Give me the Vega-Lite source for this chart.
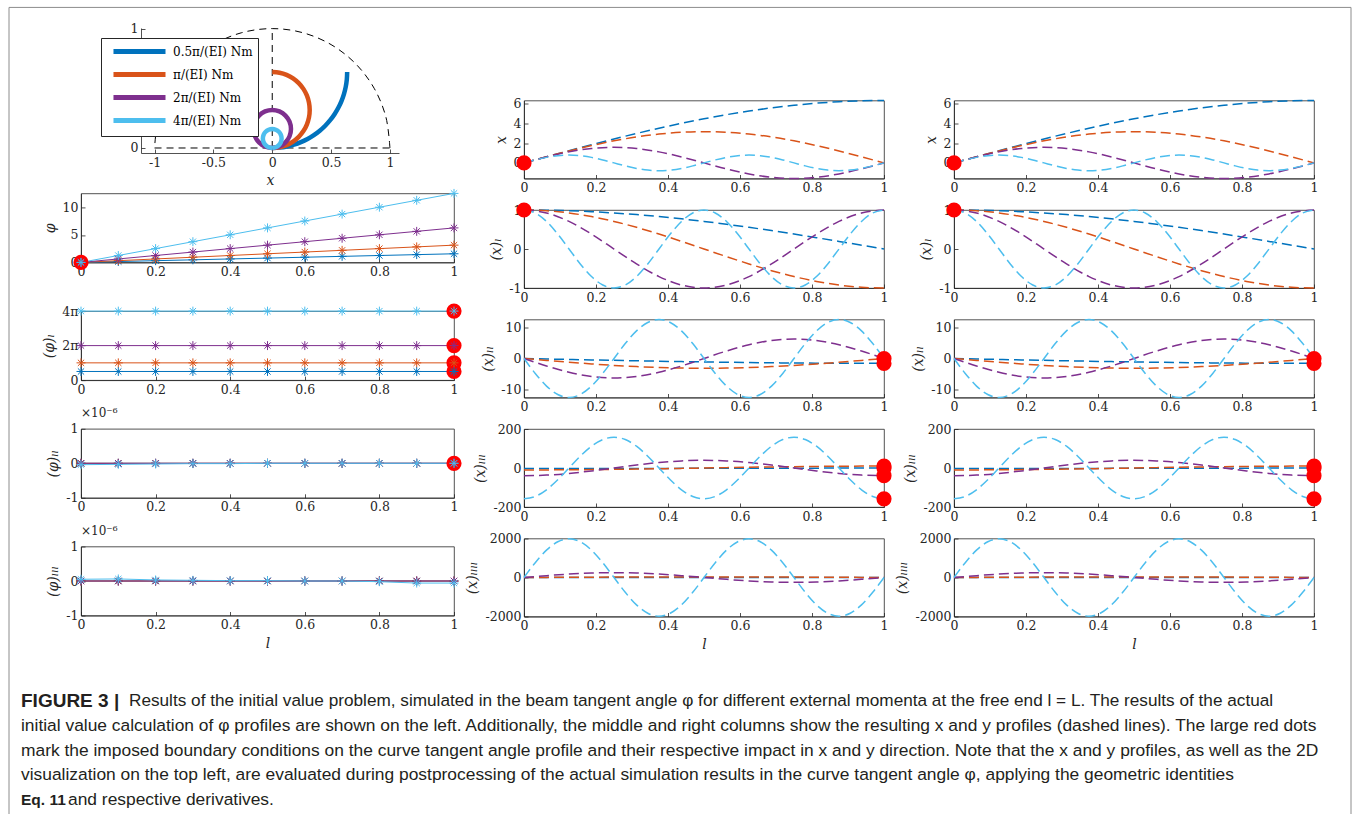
{
"$schema":"https://vega.github.io/schema/vega-lite/v6.json",
"background":"white",
"padding":{"left":8,"top":6,"right":0,"bottom":0},
"autosize":{"type":"pad"},
"config":{
 "view":{"stroke":"#262626","strokeWidth":0.8},
 "axis":{"domainColor":"#262626","domainWidth":0.8,"tickColor":"#262626","tickWidth":0.8,"tickSize":-4,"labelPadding":7,"labelFont":"DejaVu Serif","labelFontSize":12.5,"labelColor":"#262626","labelFlush":false,"labelOverlap":false,"labelBound":false,"titleFont":"DejaVu Serif","titleFontSize":14,"titleFontStyle":"italic","titleFontWeight":"normal","titleColor":"#262626","titlePadding":5,"grid":false},
 "title":{"font":"DejaVu Serif","fontWeight":"normal","fontSize":12,"color":"#262626"}
},
"datasets":{
"xs":[
{"s":"b","l":0,"d0":0,"d1":1,"d2":0,"d3":-2.467,"d4":0},
{"s":"b","l":0.0625,"d0":0.616,"d1":0.9952,"d2":-0.154,"d3":-2.456,"d4":0.38},
{"s":"b","l":0.125,"d0":1.226,"d1":0.9808,"d2":-0.306,"d3":-2.42,"d4":0.756},
{"s":"b","l":0.1875,"d0":1.824,"d1":0.9569,"d2":-0.456,"d3":-2.361,"d4":1.125},
{"s":"b","l":0.25,"d0":2.405,"d1":0.9239,"d2":-0.601,"d3":-2.28,"d4":1.483},
{"s":"b","l":0.3125,"d0":2.962,"d1":0.8819,"d2":-0.74,"d3":-2.176,"d4":1.827},
{"s":"b","l":0.375,"d0":3.491,"d1":0.8315,"d2":-0.873,"d3":-2.052,"d4":2.153},
{"s":"b","l":0.4375,"d0":3.986,"d1":0.773,"d2":-0.996,"d3":-1.907,"d4":2.459},
{"s":"b","l":0.5,"d0":4.443,"d1":0.7071,"d2":-1.111,"d3":-1.745,"d4":2.741},
{"s":"b","l":0.5625,"d0":4.857,"d1":0.6344,"d2":-1.214,"d3":-1.565,"d4":2.996},
{"s":"b","l":0.625,"d0":5.224,"d1":0.5556,"d2":-1.306,"d3":-1.371,"d4":3.223},
{"s":"b","l":0.6875,"d0":5.541,"d1":0.4714,"d2":-1.385,"d3":-1.163,"d4":3.418},
{"s":"b","l":0.75,"d0":5.805,"d1":0.3827,"d2":-1.451,"d3":-0.944,"d4":3.581},
{"s":"b","l":0.8125,"d0":6.013,"d1":0.2903,"d2":-1.503,"d3":-0.716,"d4":3.709},
{"s":"b","l":0.875,"d0":6.163,"d1":0.1951,"d2":-1.541,"d3":-0.481,"d4":3.801},
{"s":"b","l":0.9375,"d0":6.253,"d1":0.098,"d2":-1.563,"d3":-0.242,"d4":3.857},
{"s":"b","l":1,"d0":6.283,"d1":0,"d2":-1.571,"d3":0,"d4":3.876},
{"s":"o","l":0,"d0":0,"d1":1,"d2":0,"d3":-9.87,"d4":0},
{"s":"o","l":0.0625,"d0":0.613,"d1":0.9808,"d2":-0.613,"d3":-9.68,"d4":6.049},
{"s":"o","l":0.125,"d0":1.202,"d1":0.9239,"d2":-1.202,"d3":-9.118,"d4":11.865},
{"s":"o","l":0.1875,"d0":1.745,"d1":0.8315,"d2":-1.745,"d3":-8.206,"d4":17.226},
{"s":"o","l":0.25,"d0":2.221,"d1":0.7071,"d2":-2.221,"d3":-6.979,"d4":21.925},
{"s":"o","l":0.3125,"d0":2.612,"d1":0.5556,"d2":-2.612,"d3":-5.483,"d4":25.781},
{"s":"o","l":0.375,"d0":2.903,"d1":0.3827,"d2":-2.903,"d3":-3.777,"d4":28.646},
{"s":"o","l":0.4375,"d0":3.081,"d1":0.1951,"d2":-3.081,"d3":-1.925,"d4":30.41},
{"s":"o","l":0.5,"d0":3.142,"d1":0,"d2":-3.142,"d3":0,"d4":31.006},
{"s":"o","l":0.5625,"d0":3.081,"d1":-0.1951,"d2":-3.081,"d3":1.925,"d4":30.41},
{"s":"o","l":0.625,"d0":2.903,"d1":-0.3827,"d2":-2.903,"d3":3.777,"d4":28.646},
{"s":"o","l":0.6875,"d0":2.612,"d1":-0.5556,"d2":-2.612,"d3":5.483,"d4":25.781},
{"s":"o","l":0.75,"d0":2.221,"d1":-0.7071,"d2":-2.221,"d3":6.979,"d4":21.925},
{"s":"o","l":0.8125,"d0":1.745,"d1":-0.8315,"d2":-1.745,"d3":8.206,"d4":17.226},
{"s":"o","l":0.875,"d0":1.202,"d1":-0.9239,"d2":-1.202,"d3":9.118,"d4":11.865},
{"s":"o","l":0.9375,"d0":0.613,"d1":-0.9808,"d2":-0.613,"d3":9.68,"d4":6.049},
{"s":"o","l":1,"d0":0,"d1":-1,"d2":0,"d3":9.87,"d4":0},
{"s":"p","l":0,"d0":0,"d1":1,"d2":0,"d3":-39.48,"d4":0},
{"s":"p","l":0.0625,"d0":0.601,"d1":0.9239,"d2":-2.405,"d3":-36.47,"d4":94.92},
{"s":"p","l":0.125,"d0":1.111,"d1":0.7071,"d2":-4.443,"d3":-27.92,"d4":175.4},
{"s":"p","l":0.1875,"d0":1.451,"d1":0.3827,"d2":-5.805,"d3":-15.11,"d4":229.17},
{"s":"p","l":0.25,"d0":1.571,"d1":0,"d2":-6.283,"d3":0,"d4":248.05},
{"s":"p","l":0.3125,"d0":1.451,"d1":-0.3827,"d2":-5.805,"d3":15.11,"d4":229.17},
{"s":"p","l":0.375,"d0":1.111,"d1":-0.7071,"d2":-4.443,"d3":27.92,"d4":175.4},
{"s":"p","l":0.4375,"d0":0.601,"d1":-0.9239,"d2":-2.405,"d3":36.47,"d4":94.92},
{"s":"p","l":0.5,"d0":0,"d1":-1,"d2":0,"d3":39.48,"d4":0},
{"s":"p","l":0.5625,"d0":-0.601,"d1":-0.9239,"d2":2.405,"d3":36.47,"d4":-94.92},
{"s":"p","l":0.625,"d0":-1.111,"d1":-0.7071,"d2":4.443,"d3":27.92,"d4":-175.4},
{"s":"p","l":0.6875,"d0":-1.451,"d1":-0.3827,"d2":5.805,"d3":15.11,"d4":-229.17},
{"s":"p","l":0.75,"d0":-1.571,"d1":0,"d2":6.283,"d3":0,"d4":-248.05},
{"s":"p","l":0.8125,"d0":-1.451,"d1":0.3827,"d2":5.805,"d3":-15.11,"d4":-229.17},
{"s":"p","l":0.875,"d0":-1.111,"d1":0.7071,"d2":4.443,"d3":-27.92,"d4":-175.4},
{"s":"p","l":0.9375,"d0":-0.601,"d1":0.9239,"d2":2.405,"d3":-36.47,"d4":-94.92},
{"s":"p","l":1,"d0":0,"d1":1,"d2":0,"d3":-39.48,"d4":0},
{"s":"c","l":0,"d0":0,"d1":1,"d2":0,"d3":-157.91,"d4":0},
{"s":"c","l":0.03125,"d0":0.3006,"d1":0.9239,"d2":-4.809,"d3":-145.89,"d4":759.4},
{"s":"c","l":0.0625,"d0":0.5554,"d1":0.7071,"d2":-8.886,"d3":-111.66,"d4":1403.2},
{"s":"c","l":0.09375,"d0":0.7256,"d1":0.3827,"d2":-11.61,"d3":-60.43,"d4":1833.3},
{"s":"c","l":0.125,"d0":0.7854,"d1":0,"d2":-12.566,"d3":0,"d4":1984.4},
{"s":"c","l":0.15625,"d0":0.7256,"d1":-0.3827,"d2":-11.61,"d3":60.43,"d4":1833.3},
{"s":"c","l":0.1875,"d0":0.5554,"d1":-0.7071,"d2":-8.886,"d3":111.66,"d4":1403.2},
{"s":"c","l":0.21875,"d0":0.3006,"d1":-0.9239,"d2":-4.809,"d3":145.89,"d4":759.4},
{"s":"c","l":0.25,"d0":0,"d1":-1,"d2":0,"d3":157.91,"d4":0},
{"s":"c","l":0.28125,"d0":-0.3006,"d1":-0.9239,"d2":4.809,"d3":145.89,"d4":-759.4},
{"s":"c","l":0.3125,"d0":-0.5554,"d1":-0.7071,"d2":8.886,"d3":111.66,"d4":-1403.2},
{"s":"c","l":0.34375,"d0":-0.7256,"d1":-0.3827,"d2":11.61,"d3":60.43,"d4":-1833.3},
{"s":"c","l":0.375,"d0":-0.7854,"d1":0,"d2":12.566,"d3":0,"d4":-1984.4},
{"s":"c","l":0.40625,"d0":-0.7256,"d1":0.3827,"d2":11.61,"d3":-60.43,"d4":-1833.3},
{"s":"c","l":0.4375,"d0":-0.5554,"d1":0.7071,"d2":8.886,"d3":-111.66,"d4":-1403.2},
{"s":"c","l":0.46875,"d0":-0.3006,"d1":0.9239,"d2":4.809,"d3":-145.89,"d4":-759.4},
{"s":"c","l":0.5,"d0":0,"d1":1,"d2":0,"d3":-157.91,"d4":0},
{"s":"c","l":0.53125,"d0":0.3006,"d1":0.9239,"d2":-4.809,"d3":-145.89,"d4":759.4},
{"s":"c","l":0.5625,"d0":0.5554,"d1":0.7071,"d2":-8.886,"d3":-111.66,"d4":1403.2},
{"s":"c","l":0.59375,"d0":0.7256,"d1":0.3827,"d2":-11.61,"d3":-60.43,"d4":1833.3},
{"s":"c","l":0.625,"d0":0.7854,"d1":0,"d2":-12.566,"d3":0,"d4":1984.4},
{"s":"c","l":0.65625,"d0":0.7256,"d1":-0.3827,"d2":-11.61,"d3":60.43,"d4":1833.3},
{"s":"c","l":0.6875,"d0":0.5554,"d1":-0.7071,"d2":-8.886,"d3":111.66,"d4":1403.2},
{"s":"c","l":0.71875,"d0":0.3006,"d1":-0.9239,"d2":-4.809,"d3":145.89,"d4":759.4},
{"s":"c","l":0.75,"d0":0,"d1":-1,"d2":0,"d3":157.91,"d4":0},
{"s":"c","l":0.78125,"d0":-0.3006,"d1":-0.9239,"d2":4.809,"d3":145.89,"d4":-759.4},
{"s":"c","l":0.8125,"d0":-0.5554,"d1":-0.7071,"d2":8.886,"d3":111.66,"d4":-1403.2},
{"s":"c","l":0.84375,"d0":-0.7256,"d1":-0.3827,"d2":11.61,"d3":60.43,"d4":-1833.3},
{"s":"c","l":0.875,"d0":-0.7854,"d1":0,"d2":12.566,"d3":0,"d4":-1984.4},
{"s":"c","l":0.90625,"d0":-0.7256,"d1":0.3827,"d2":11.61,"d3":-60.43,"d4":-1833.3},
{"s":"c","l":0.9375,"d0":-0.5554,"d1":0.7071,"d2":8.886,"d3":-111.66,"d4":-1403.2},
{"s":"c","l":0.96875,"d0":-0.3006,"d1":0.9239,"d2":4.809,"d3":-145.89,"d4":-759.4},
{"s":"c","l":1,"d0":0,"d1":1,"d2":0,"d3":-157.91,"d4":0}
],
"ph":[
{"s":"b","l":0,"a0":0,"a1":1.5708,"a2":0,"a3":0},
{"s":"b","l":0.1,"a0":0.157,"a1":1.5708,"a2":0,"a3":0},
{"s":"b","l":0.2,"a0":0.314,"a1":1.5708,"a2":0,"a3":0},
{"s":"b","l":0.3,"a0":0.471,"a1":1.5708,"a2":0,"a3":0},
{"s":"b","l":0.4,"a0":0.628,"a1":1.5708,"a2":0,"a3":0},
{"s":"b","l":0.5,"a0":0.785,"a1":1.5708,"a2":0,"a3":0},
{"s":"b","l":0.6,"a0":0.942,"a1":1.5708,"a2":0,"a3":0},
{"s":"b","l":0.7,"a0":1.1,"a1":1.5708,"a2":0,"a3":0},
{"s":"b","l":0.8,"a0":1.257,"a1":1.5708,"a2":0,"a3":0},
{"s":"b","l":0.9,"a0":1.414,"a1":1.5708,"a2":0,"a3":0},
{"s":"b","l":1,"a0":1.571,"a1":1.5708,"a2":0,"a3":0},
{"s":"o","l":0,"a0":0,"a1":3.1416,"a2":0,"a3":0},
{"s":"o","l":0.1,"a0":0.314,"a1":3.1416,"a2":0,"a3":0},
{"s":"o","l":0.2,"a0":0.628,"a1":3.1416,"a2":0,"a3":0},
{"s":"o","l":0.3,"a0":0.942,"a1":3.1416,"a2":0,"a3":0},
{"s":"o","l":0.4,"a0":1.257,"a1":3.1416,"a2":0,"a3":0},
{"s":"o","l":0.5,"a0":1.571,"a1":3.1416,"a2":0,"a3":0},
{"s":"o","l":0.6,"a0":1.885,"a1":3.1416,"a2":0,"a3":0},
{"s":"o","l":0.7,"a0":2.199,"a1":3.1416,"a2":0,"a3":0},
{"s":"o","l":0.8,"a0":2.513,"a1":3.1416,"a2":0,"a3":0},
{"s":"o","l":0.9,"a0":2.827,"a1":3.1416,"a2":0,"a3":0},
{"s":"o","l":1,"a0":3.142,"a1":3.1416,"a2":0,"a3":0},
{"s":"p","l":0,"a0":0,"a1":6.2832,"a2":0,"a3":0},
{"s":"p","l":0.1,"a0":0.628,"a1":6.2832,"a2":0,"a3":0},
{"s":"p","l":0.2,"a0":1.257,"a1":6.2832,"a2":0,"a3":0},
{"s":"p","l":0.3,"a0":1.885,"a1":6.2832,"a2":0,"a3":0},
{"s":"p","l":0.4,"a0":2.513,"a1":6.2832,"a2":0,"a3":0},
{"s":"p","l":0.5,"a0":3.142,"a1":6.2832,"a2":0,"a3":0},
{"s":"p","l":0.6,"a0":3.77,"a1":6.2832,"a2":0,"a3":0},
{"s":"p","l":0.7,"a0":4.398,"a1":6.2832,"a2":0,"a3":0},
{"s":"p","l":0.8,"a0":5.027,"a1":6.2832,"a2":0,"a3":0},
{"s":"p","l":0.9,"a0":5.655,"a1":6.2832,"a2":0,"a3":0},
{"s":"p","l":1,"a0":6.283,"a1":6.2832,"a2":0,"a3":0},
{"s":"c","l":0,"a0":0,"a1":12.566,"a2":-0.04,"a3":0.05},
{"s":"c","l":0.1,"a0":1.257,"a1":12.566,"a2":-0.03,"a3":0.06},
{"s":"c","l":0.2,"a0":2.513,"a1":12.566,"a2":-0.02,"a3":0.03},
{"s":"c","l":0.3,"a0":3.77,"a1":12.566,"a2":-0.01,"a3":0.02},
{"s":"c","l":0.4,"a0":5.027,"a1":12.566,"a2":-0.01,"a3":0.01},
{"s":"c","l":0.5,"a0":6.283,"a1":12.566,"a2":0,"a3":0.01},
{"s":"c","l":0.6,"a0":7.54,"a1":12.566,"a2":0,"a3":0},
{"s":"c","l":0.7,"a0":8.796,"a1":12.566,"a2":0,"a3":0},
{"s":"c","l":0.8,"a0":10.053,"a1":12.566,"a2":0,"a3":-0.02},
{"s":"c","l":0.9,"a0":11.31,"a1":12.566,"a2":0,"a3":-0.06},
{"s":"c","l":1,"a0":12.566,"a1":12.566,"a2":0,"a3":-0.06}
],
"red":[
{"p":"a0","l":0,"v":0},
{"p":"a1","l":1,"v":1.5708},{"p":"a1","l":1,"v":3.1416},{"p":"a1","l":1,"v":6.2832},{"p":"a1","l":1,"v":12.566},
{"p":"a2","l":1,"v":0},
{"p":"d0","l":0,"v":0},
{"p":"d1","l":0,"v":1},
{"p":"d2","l":1,"v":0},{"p":"d2","l":1,"v":-1.5708},
{"p":"d3","l":1,"v":0},{"p":"d3","l":1,"v":9.87},{"p":"d3","l":1,"v":-39.48},{"p":"d3","l":1,"v":-157.91}
],
"geo":[
{"s":"b","i":0,"x":0,"y":0},{"s":"b","i":1,"x":0.0624,"y":0.0031},{"s":"b","i":2,"x":0.1242,"y":0.0122},{"s":"b","i":3,"x":0.1848,"y":0.0274},{"s":"b","i":4,"x":0.2436,"y":0.0485},{"s":"b","i":5,"x":0.3001,"y":0.0752},{"s":"b","i":6,"x":0.3537,"y":0.1073},{"s":"b","i":7,"x":0.4039,"y":0.1445},{"s":"b","i":8,"x":0.4502,"y":0.1865},{"s":"b","i":9,"x":0.4921,"y":0.2328},{"s":"b","i":10,"x":0.5293,"y":0.2829},{"s":"b","i":11,"x":0.5614,"y":0.3365},{"s":"b","i":12,"x":0.5882,"y":0.393},{"s":"b","i":13,"x":0.6092,"y":0.4518},{"s":"b","i":14,"x":0.6244,"y":0.5124},{"s":"b","i":15,"x":0.6336,"y":0.5742},{"s":"b","i":16,"x":0.6366,"y":0.6366},
{"s":"o","i":0,"x":0,"y":0},{"s":"o","i":1,"x":0.0621,"y":0.0061},{"s":"o","i":2,"x":0.1218,"y":0.0242},{"s":"o","i":3,"x":0.1768,"y":0.0536},{"s":"o","i":4,"x":0.2251,"y":0.0932},{"s":"o","i":5,"x":0.2647,"y":0.1415},{"s":"o","i":6,"x":0.2941,"y":0.1965},{"s":"o","i":7,"x":0.3122,"y":0.2562},{"s":"o","i":8,"x":0.3183,"y":0.3183},{"s":"o","i":9,"x":0.3122,"y":0.3804},{"s":"o","i":10,"x":0.2941,"y":0.4401},{"s":"o","i":11,"x":0.2647,"y":0.4952},{"s":"o","i":12,"x":0.2251,"y":0.5434},{"s":"o","i":13,"x":0.1768,"y":0.583},{"s":"o","i":14,"x":0.1218,"y":0.6124},{"s":"o","i":15,"x":0.0621,"y":0.6305},{"s":"o","i":16,"x":0,"y":0.6366},
{"s":"p","i":0,"x":0,"y":0},{"s":"p","i":1,"x":0.0609,"y":0.0121},{"s":"p","i":2,"x":0.1125,"y":0.0466},{"s":"p","i":3,"x":0.147,"y":0.0982},{"s":"p","i":4,"x":0.1592,"y":0.1592},{"s":"p","i":5,"x":0.147,"y":0.2201},{"s":"p","i":6,"x":0.1125,"y":0.2717},{"s":"p","i":7,"x":0.0609,"y":0.3062},{"s":"p","i":8,"x":0,"y":0.3183},{"s":"p","i":9,"x":-0.0609,"y":0.3062},{"s":"p","i":10,"x":-0.1125,"y":0.2717},{"s":"p","i":11,"x":-0.147,"y":0.2201},{"s":"p","i":12,"x":-0.1592,"y":0.1592},{"s":"p","i":13,"x":-0.147,"y":0.0982},{"s":"p","i":14,"x":-0.1125,"y":0.0466},{"s":"p","i":15,"x":-0.0609,"y":0.0121},{"s":"p","i":16,"x":0,"y":0},
{"s":"c","i":0,"x":0,"y":0},{"s":"c","i":1,"x":0.0305,"y":0.0061},{"s":"c","i":2,"x":0.0563,"y":0.0233},{"s":"c","i":3,"x":0.0735,"y":0.0491},{"s":"c","i":4,"x":0.0796,"y":0.0796},{"s":"c","i":5,"x":0.0735,"y":0.11},{"s":"c","i":6,"x":0.0563,"y":0.1358},{"s":"c","i":7,"x":0.0305,"y":0.153},{"s":"c","i":8,"x":0,"y":0.1592},{"s":"c","i":9,"x":-0.0305,"y":0.153},{"s":"c","i":10,"x":-0.0563,"y":0.1358},{"s":"c","i":11,"x":-0.0735,"y":0.11},{"s":"c","i":12,"x":-0.0796,"y":0.0796},{"s":"c","i":13,"x":-0.0735,"y":0.0491},{"s":"c","i":14,"x":-0.0563,"y":0.0233},{"s":"c","i":15,"x":-0.0305,"y":0.0061},{"s":"c","i":16,"x":0,"y":0}
],
"ref":[
{"g":"circ","i":0,"x":1,"y":0},{"g":"circ","i":1,"x":0.9659,"y":0.2588},{"g":"circ","i":2,"x":0.866,"y":0.5},{"g":"circ","i":3,"x":0.7071,"y":0.7071},{"g":"circ","i":4,"x":0.5,"y":0.866},{"g":"circ","i":5,"x":0.2588,"y":0.9659},{"g":"circ","i":6,"x":0,"y":1},{"g":"circ","i":7,"x":-0.2588,"y":0.9659},{"g":"circ","i":8,"x":-0.5,"y":0.866},{"g":"circ","i":9,"x":-0.7071,"y":0.7071},{"g":"circ","i":10,"x":-0.866,"y":0.5},{"g":"circ","i":11,"x":-0.9659,"y":0.2588},{"g":"circ","i":12,"x":-1,"y":0},
{"g":"h","i":0,"x":-1,"y":0},{"g":"h","i":1,"x":1,"y":0},
{"g":"v","i":0,"x":0,"y":0},{"g":"v","i":1,"x":0,"y":1}
],
"cap":[
{"line":0,"kind":"b0","t":"FIGURE 3 |"},
{"line":0,"kind":"c0","t":"Results of the initial value problem, simulated in the beam tangent angle φ for different external momenta at the free end l = L. The results of the actual"},
{"line":1,"kind":"n","t":"initial value calculation of φ profiles are shown on the left. Additionally, the middle and right columns show the resulting x and y profiles (dashed lines). The large red dots"},
{"line":2,"kind":"n","t":"mark the imposed boundary conditions on the curve tangent angle profile and their respective impact in x and y direction. Note that the x and y profiles, as well as the 2D"},
{"line":3,"kind":"n","t":"visualization on the top left, are evaluated during postprocessing of the actual simulation results in the curve tangent angle φ, applying the geometric identities"},
{"line":4,"kind":"b4","t":"Eq. 11"},
{"line":4,"kind":"c4","t":"and respective derivatives."}
]
},
"hconcat":[
{
 "vconcat":[
  {
   "hconcat":[
    {"width":50,"height":125,"data":{"values":[{}]},"mark":{"type":"point","opacity":0},"encoding":{},"view":{"stroke":null}},
    {
     "width":258,"height":125,
     "view":{"stroke":null},
     "layer":[
      {"data":{"name":"ref"},"mark":{"type":"line","color":"#000000","strokeWidth":1,"strokeDash":[7,5],"interpolate":"cardinal"},
       "encoding":{
        "x":{"field":"x","type":"quantitative","scale":{"domain":[-1.115,1.077],"nice":false,"zero":false},"axis":{"values":[-1,-0.5,0,0.5,1],"tickCount":20,"labelExpr":"'' + datum.value","title":"x"}},
        "y":{"field":"y","type":"quantitative","scale":{"domain":[-0.042,1.005],"nice":false,"zero":false},"axis":{"values":[0,1],"tickCount":20,"labelExpr":"'' + datum.value","title":null}},
        "detail":{"field":"g","type":"nominal"},
        "order":{"field":"i","type":"quantitative"}}},
      {"data":{"name":"geo"},"mark":{"type":"line","strokeWidth":4.5,"interpolate":"cardinal"},
       "encoding":{
        "x":{"field":"x","type":"quantitative"},
        "y":{"field":"y","type":"quantitative"},
        "order":{"field":"i","type":"quantitative"},
        "color":{"field":"s","type":"nominal","scale":{"domain":["b","o","p","c"],"range":["#0072BD","#D95319","#7E2F8E","#4DBEEE"]},
         "legend":{"orient":"none","legendX":-40,"legendY":10,"title":null,"direction":"vertical","symbolType":"M-0.17,0L8.5,0","symbolSize":144,"symbolStrokeWidth":5,"labelFont":"DejaVu Serif","labelFontSize":12,"labelColor":"#000000","strokeColor":"#262626","fillColor":"#ffffff","padding":5,"rowPadding":2,"labelOffset":50,
          "labelExpr":"datum.label == 'b' ? '0.5π/(EI) Nm' : datum.label == 'o' ? 'π/(EI) Nm' : datum.label == 'p' ? '2π/(EI) Nm' : '4π/(EI) Nm'"}}}}
     ]
    }
   ],
   "spacing":10,"bounds":"flush","resolve":{"scale":{"color":"independent"}}
  },
  {"width":10,"height":67.6,"data":{"values":[{}]},"mark":{"type":"point","opacity":0},"encoding":{},"view":{"stroke":null}},
  {
   "width":373,"height":69,
   "layer":[
    {"data":{"name":"ph"},"mark":{"type":"line","strokeWidth":1},
     "encoding":{
      "x":{"field":"l","type":"quantitative","scale":{"domain":[0,1],"nice":false},"axis":{"values":[0,0.2,0.4,0.6,0.8,1],"tickCount":20,"labelExpr":"'' + datum.value","title":null}},
      "y":{"field":"a0","type":"quantitative","scale":{"domain":[0,12.566],"nice":false,"zero":false},"axis":{"values":[0,5,10],"tickCount":20,"labelExpr":"'' + datum.value","title":"φ"}},
      "color":{"field":"s","type":"nominal","scale":{"domain":["b","o","p","c"],"range":["#0072BD","#D95319","#7E2F8E","#4DBEEE"]},"legend":null}}},
    {"data":{"name":"red"},"transform":[{"filter":"datum.p == 'a0'"}],"mark":{"type":"circle","size":230,"color":"#ff0000","opacity":1},
     "encoding":{"x":{"field":"l","type":"quantitative"},"y":{"field":"v","type":"quantitative"}}},
    {"data":{"name":"ph"},"mark":{"type":"point","shape":"M-1,0L1,0M0,-1L0,1M-0.7,-0.7L0.7,0.7M-0.7,0.7L0.7,-0.7","size":80,"strokeWidth":1,"filled":false,"opacity":1},
     "encoding":{"x":{"field":"l","type":"quantitative"},"y":{"field":"a0","type":"quantitative"},"color":{"field":"s","type":"nominal","legend":null}}}
   ]
  },
  {
   "width":373,"height":69,
   "layer":[
    {"data":{"name":"ph"},"mark":{"type":"line","strokeWidth":1},
     "encoding":{
      "x":{"field":"l","type":"quantitative","scale":{"domain":[0,1],"nice":false},"axis":{"values":[0,0.2,0.4,0.6,0.8,1],"tickCount":20,"labelExpr":"'' + datum.value","title":null}},
      "y":{"field":"a1","type":"quantitative","scale":{"domain":[0,12.566],"nice":false,"zero":false},"axis":{"values":[0,6.2832,12.566],"tickCount":20,"labelExpr":"datum.value == 0 ? '0' : datum.value < 7 ? '2π' : '4π'","title":"(φ)ₗ"}},
      "color":{"field":"s","type":"nominal","scale":{"domain":["b","o","p","c"],"range":["#0072BD","#D95319","#7E2F8E","#4DBEEE"]},"legend":null}}},
    {"data":{"name":"red"},"transform":[{"filter":"datum.p == 'a1'"}],"mark":{"type":"circle","size":230,"color":"#ff0000","opacity":1},
     "encoding":{"x":{"field":"l","type":"quantitative"},"y":{"field":"v","type":"quantitative"}}},
    {"data":{"name":"ph"},"mark":{"type":"point","shape":"M-1,0L1,0M0,-1L0,1M-0.7,-0.7L0.7,0.7M-0.7,0.7L0.7,-0.7","size":80,"strokeWidth":1,"filled":false,"opacity":1},
     "encoding":{"x":{"field":"l","type":"quantitative"},"y":{"field":"a1","type":"quantitative"},"color":{"field":"s","type":"nominal","legend":null}}}
   ]
  },
  {
   "width":373,"height":69,
   "title":{"text":"×10⁻⁶","anchor":"start","frame":"group","offset":3,"fontSize":12},
   "layer":[
    {"data":{"name":"ph"},"mark":{"type":"line","strokeWidth":1},
     "encoding":{
      "x":{"field":"l","type":"quantitative","scale":{"domain":[0,1],"nice":false},"axis":{"values":[0,0.2,0.4,0.6,0.8,1],"tickCount":20,"labelExpr":"'' + datum.value","title":null}},
      "y":{"field":"a2","type":"quantitative","scale":{"domain":[-1,1],"nice":false,"zero":false},"axis":{"values":[-1,0,1],"tickCount":20,"labelExpr":"'' + datum.value","title":"(φ)ₗₗ"}},
      "color":{"field":"s","type":"nominal","scale":{"domain":["b","o","p","c"],"range":["#0072BD","#D95319","#7E2F8E","#4DBEEE"]},"legend":null}}},
    {"data":{"name":"red"},"transform":[{"filter":"datum.p == 'a2'"}],"mark":{"type":"circle","size":230,"color":"#ff0000","opacity":1},
     "encoding":{"x":{"field":"l","type":"quantitative"},"y":{"field":"v","type":"quantitative"}}},
    {"data":{"name":"ph"},"mark":{"type":"point","shape":"M-1,0L1,0M0,-1L0,1M-0.7,-0.7L0.7,0.7M-0.7,0.7L0.7,-0.7","size":80,"strokeWidth":1,"filled":false,"opacity":1},
     "encoding":{"x":{"field":"l","type":"quantitative"},"y":{"field":"a2","type":"quantitative"},"color":{"field":"s","type":"nominal","legend":null}}}
   ]
  },
  {
   "width":373,"height":69,
   "title":{"text":"×10⁻⁶","anchor":"start","frame":"group","offset":3,"fontSize":12},
   "layer":[
    {"data":{"name":"ph"},"mark":{"type":"line","strokeWidth":1},
     "encoding":{
      "x":{"field":"l","type":"quantitative","scale":{"domain":[0,1],"nice":false},"axis":{"values":[0,0.2,0.4,0.6,0.8,1],"tickCount":20,"labelExpr":"'' + datum.value","title":"l"}},
      "y":{"field":"a3","type":"quantitative","scale":{"domain":[-1,1],"nice":false,"zero":false},"axis":{"values":[-1,0,1],"tickCount":20,"labelExpr":"'' + datum.value","title":"(φ)ₗₗₗ"}},
      "color":{"field":"s","type":"nominal","scale":{"domain":["b","o","p","c"],"range":["#0072BD","#D95319","#7E2F8E","#4DBEEE"]},"legend":null}}},
    {"data":{"name":"ph"},"mark":{"type":"point","shape":"M-1,0L1,0M0,-1L0,1M-0.7,-0.7L0.7,0.7M-0.7,0.7L0.7,-0.7","size":80,"strokeWidth":1,"filled":false,"opacity":1},
     "encoding":{"x":{"field":"l","type":"quantitative"},"y":{"field":"a3","type":"quantitative"},"color":{"field":"s","type":"nominal","legend":null}}}
   ]
  },
  {
   "width":1270,"height":150,
   "view":{"stroke":null},
   "layer":[
    {"data":{"values":[{}]},"mark":{"type":"rect","filled":false,"color":"#8c8c8c","strokeWidth":1},
     "encoding":{
      "x":{"datum":-0.05669,"type":"quantitative","scale":{"domain":[0,1],"nice":false,"zero":false},"axis":null},
      "x2":{"datum":1},
      "y":{"datum":-28.211,"type":"quantitative","scale":{"domain":[-1.5122,4.5854],"reverse":true,"nice":false,"zero":false},"axis":null},
      "y2":{"datum":4.7154}}},
    {"data":{"name":"cap"},"transform":[{"filter":"datum.kind == 'b0'"}],"mark":{"type":"text","align":"left","baseline":"middle","dx":-60,"font":"Liberation Sans","fontSize":19,"fontWeight":"bold","color":"#231f20"},
     "encoding":{"x":{"datum":0,"type":"quantitative"},"y":{"field":"line","type":"quantitative"},"text":{"field":"t","type":"nominal"}}},
    {"data":{"name":"cap"},"transform":[{"filter":"datum.kind == 'b4'"}],"mark":{"type":"text","align":"left","baseline":"middle","dx":-60,"font":"Liberation Sans","fontSize":15.5,"fontWeight":"bold","color":"#231f20"},
     "encoding":{"x":{"datum":0,"type":"quantitative"},"y":{"field":"line","type":"quantitative"},"text":{"field":"t","type":"nominal"}}},
    {"data":{"name":"cap"},"transform":[{"filter":"datum.kind == 'n'"}],"mark":{"type":"text","align":"left","baseline":"middle","dx":-60,"font":"Liberation Sans","fontSize":17.4,"color":"#231f20"},
     "encoding":{"x":{"datum":0,"type":"quantitative"},"y":{"field":"line","type":"quantitative"},"text":{"field":"t","type":"nominal"}}},
    {"data":{"name":"cap"},"transform":[{"filter":"datum.kind == 'c0'"}],"mark":{"type":"text","align":"left","baseline":"middle","dx":48,"font":"Liberation Sans","fontSize":17.2,"color":"#231f20"},
     "encoding":{"x":{"datum":0,"type":"quantitative"},"y":{"field":"line","type":"quantitative"},"text":{"field":"t","type":"nominal"}}},
    {"data":{"name":"cap"},"transform":[{"filter":"datum.kind == 'c4'"}],"mark":{"type":"text","align":"left","baseline":"middle","dx":-13,"font":"Liberation Sans","fontSize":17.4,"color":"#231f20"},
     "encoding":{"x":{"datum":0,"type":"quantitative"},"y":{"field":"line","type":"quantitative"},"text":{"field":"t","type":"nominal"}}}
   ]
  }
 ],
 "spacing":48.7,"bounds":"flush","resolve":{"scale":{"color":"independent"}}
},
{"width":442.5,"height":1,"data":{"values":[{}]},"mark":{"type":"point","opacity":0},"encoding":{},"view":{"stroke":null}},
{
 "vconcat":[
  {"width":10,"height":40.5,"data":{"values":[{}]},"mark":{"type":"point","opacity":0},"encoding":{},"view":{"stroke":null}},
  {"width":360,"height":78,"layer":[
    {"data":{"name":"xs"},"mark":{"type":"line","strokeDash":[10,5],"strokeWidth":1.5,"interpolate":"monotone"},
     "encoding":{
      "x":{"field":"l","type":"quantitative","scale":{"domain":[0,1],"nice":false},"axis":{"values":[0,0.2,0.4,0.6,0.8,1],"tickCount":20,"labelExpr":"'' + datum.value","title":null}},
      "y":{"field":"d0","type":"quantitative","scale":{"domain":[-1.5708,6.2832],"nice":false,"zero":false},"axis":{"values":[0,2,4,6],"tickCount":20,"labelExpr":"'' + datum.value","title":"x"}},
      "color":{"field":"s","type":"nominal","scale":{"domain":["b","o","p","c"],"range":["#0072BD","#D95319","#7E2F8E","#4DBEEE"]},"legend":null}}},
    {"data":{"name":"red"},"transform":[{"filter":"datum.p == 'd0'"}],"mark":{"type":"circle","size":230,"color":"#ff0000","opacity":1},
     "encoding":{"x":{"field":"l","type":"quantitative"},"y":{"field":"v","type":"quantitative"}}}
  ]},
  {"width":360,"height":78,"layer":[
    {"data":{"name":"xs"},"mark":{"type":"line","strokeDash":[10,5],"strokeWidth":1.5,"interpolate":"monotone"},
     "encoding":{
      "x":{"field":"l","type":"quantitative","scale":{"domain":[0,1],"nice":false},"axis":{"values":[0,0.2,0.4,0.6,0.8,1],"tickCount":20,"labelExpr":"'' + datum.value","title":null}},
      "y":{"field":"d1","type":"quantitative","scale":{"domain":[-1,1],"nice":false,"zero":false},"axis":{"values":[-1,0,1],"tickCount":20,"labelExpr":"'' + datum.value","title":"(x)ₗ"}},
      "color":{"field":"s","type":"nominal","scale":{"domain":["b","o","p","c"],"range":["#0072BD","#D95319","#7E2F8E","#4DBEEE"]},"legend":null}}},
    {"data":{"name":"red"},"transform":[{"filter":"datum.p == 'd1'"}],"mark":{"type":"circle","size":230,"color":"#ff0000","opacity":1},
     "encoding":{"x":{"field":"l","type":"quantitative"},"y":{"field":"v","type":"quantitative"}}}
  ]},
  {"width":360,"height":78,"layer":[
    {"data":{"name":"xs"},"mark":{"type":"line","strokeDash":[10,5],"strokeWidth":1.5,"interpolate":"monotone"},
     "encoding":{
      "x":{"field":"l","type":"quantitative","scale":{"domain":[0,1],"nice":false},"axis":{"values":[0,0.2,0.4,0.6,0.8,1],"tickCount":20,"labelExpr":"'' + datum.value","title":null}},
      "y":{"field":"d2","type":"quantitative","scale":{"domain":[-12.566,12.566],"nice":false,"zero":false},"axis":{"values":[-10,0,10],"tickCount":20,"labelExpr":"'' + datum.value","title":"(x)ₗₗ"}},
      "color":{"field":"s","type":"nominal","scale":{"domain":["b","o","p","c"],"range":["#0072BD","#D95319","#7E2F8E","#4DBEEE"]},"legend":null}}},
    {"data":{"name":"red"},"transform":[{"filter":"datum.p == 'd2'"}],"mark":{"type":"circle","size":230,"color":"#ff0000","opacity":1},
     "encoding":{"x":{"field":"l","type":"quantitative"},"y":{"field":"v","type":"quantitative"}}}
  ]},
  {"width":360,"height":78,"layer":[
    {"data":{"name":"xs"},"mark":{"type":"line","strokeDash":[10,5],"strokeWidth":1.5,"interpolate":"monotone"},
     "encoding":{
      "x":{"field":"l","type":"quantitative","scale":{"domain":[0,1],"nice":false},"axis":{"values":[0,0.2,0.4,0.6,0.8,1],"tickCount":20,"labelExpr":"'' + datum.value","title":null}},
      "y":{"field":"d3","type":"quantitative","scale":{"domain":[-200,200],"nice":false,"zero":false},"axis":{"values":[-200,0,200],"tickCount":20,"labelExpr":"'' + datum.value","title":"(x)ₗₗₗ"}},
      "color":{"field":"s","type":"nominal","scale":{"domain":["b","o","p","c"],"range":["#0072BD","#D95319","#7E2F8E","#4DBEEE"]},"legend":null}}},
    {"data":{"name":"red"},"transform":[{"filter":"datum.p == 'd3'"}],"mark":{"type":"circle","size":230,"color":"#ff0000","opacity":1},
     "encoding":{"x":{"field":"l","type":"quantitative"},"y":{"field":"v","type":"quantitative"}}}
  ]},
  {"width":360,"height":78,"layer":[
    {"data":{"name":"xs"},"mark":{"type":"line","strokeDash":[10,5],"strokeWidth":1.5,"interpolate":"monotone"},
     "encoding":{
      "x":{"field":"l","type":"quantitative","scale":{"domain":[0,1],"nice":false},"axis":{"values":[0,0.2,0.4,0.6,0.8,1],"tickCount":20,"labelExpr":"'' + datum.value","title":"l"}},
      "y":{"field":"d4","type":"quantitative","scale":{"domain":[-2000,2000],"nice":false,"zero":false},"axis":{"values":[-2000,0,2000],"tickCount":20,"labelExpr":"'' + datum.value","title":"(x)ₗₗₗₗ"}},
      "color":{"field":"s","type":"nominal","scale":{"domain":["b","o","p","c"],"range":["#0072BD","#D95319","#7E2F8E","#4DBEEE"]},"legend":null}}}
  ]}
 ],
 "spacing":31.5,"bounds":"flush","resolve":{"scale":{"color":"independent"}}
},
{"width":429.5,"height":1,"data":{"values":[{}]},"mark":{"type":"point","opacity":0},"encoding":{},"view":{"stroke":null}},
{
 "vconcat":[
  {"width":10,"height":40.5,"data":{"values":[{}]},"mark":{"type":"point","opacity":0},"encoding":{},"view":{"stroke":null}},
  {"width":360,"height":78,"layer":[
    {"data":{"name":"xs"},"mark":{"type":"line","strokeDash":[10,5],"strokeWidth":1.5,"interpolate":"monotone"},
     "encoding":{
      "x":{"field":"l","type":"quantitative","scale":{"domain":[0,1],"nice":false},"axis":{"values":[0,0.2,0.4,0.6,0.8,1],"tickCount":20,"labelExpr":"'' + datum.value","title":null}},
      "y":{"field":"d0","type":"quantitative","scale":{"domain":[-1.5708,6.2832],"nice":false,"zero":false},"axis":{"values":[0,2,4,6],"tickCount":20,"labelExpr":"'' + datum.value","title":"x"}},
      "color":{"field":"s","type":"nominal","scale":{"domain":["b","o","p","c"],"range":["#0072BD","#D95319","#7E2F8E","#4DBEEE"]},"legend":null}}},
    {"data":{"name":"red"},"transform":[{"filter":"datum.p == 'd0'"}],"mark":{"type":"circle","size":230,"color":"#ff0000","opacity":1},
     "encoding":{"x":{"field":"l","type":"quantitative"},"y":{"field":"v","type":"quantitative"}}}
  ]},
  {"width":360,"height":78,"layer":[
    {"data":{"name":"xs"},"mark":{"type":"line","strokeDash":[10,5],"strokeWidth":1.5,"interpolate":"monotone"},
     "encoding":{
      "x":{"field":"l","type":"quantitative","scale":{"domain":[0,1],"nice":false},"axis":{"values":[0,0.2,0.4,0.6,0.8,1],"tickCount":20,"labelExpr":"'' + datum.value","title":null}},
      "y":{"field":"d1","type":"quantitative","scale":{"domain":[-1,1],"nice":false,"zero":false},"axis":{"values":[-1,0,1],"tickCount":20,"labelExpr":"'' + datum.value","title":"(x)ₗ"}},
      "color":{"field":"s","type":"nominal","scale":{"domain":["b","o","p","c"],"range":["#0072BD","#D95319","#7E2F8E","#4DBEEE"]},"legend":null}}},
    {"data":{"name":"red"},"transform":[{"filter":"datum.p == 'd1'"}],"mark":{"type":"circle","size":230,"color":"#ff0000","opacity":1},
     "encoding":{"x":{"field":"l","type":"quantitative"},"y":{"field":"v","type":"quantitative"}}}
  ]},
  {"width":360,"height":78,"layer":[
    {"data":{"name":"xs"},"mark":{"type":"line","strokeDash":[10,5],"strokeWidth":1.5,"interpolate":"monotone"},
     "encoding":{
      "x":{"field":"l","type":"quantitative","scale":{"domain":[0,1],"nice":false},"axis":{"values":[0,0.2,0.4,0.6,0.8,1],"tickCount":20,"labelExpr":"'' + datum.value","title":null}},
      "y":{"field":"d2","type":"quantitative","scale":{"domain":[-12.566,12.566],"nice":false,"zero":false},"axis":{"values":[-10,0,10],"tickCount":20,"labelExpr":"'' + datum.value","title":"(x)ₗₗ"}},
      "color":{"field":"s","type":"nominal","scale":{"domain":["b","o","p","c"],"range":["#0072BD","#D95319","#7E2F8E","#4DBEEE"]},"legend":null}}},
    {"data":{"name":"red"},"transform":[{"filter":"datum.p == 'd2'"}],"mark":{"type":"circle","size":230,"color":"#ff0000","opacity":1},
     "encoding":{"x":{"field":"l","type":"quantitative"},"y":{"field":"v","type":"quantitative"}}}
  ]},
  {"width":360,"height":78,"layer":[
    {"data":{"name":"xs"},"mark":{"type":"line","strokeDash":[10,5],"strokeWidth":1.5,"interpolate":"monotone"},
     "encoding":{
      "x":{"field":"l","type":"quantitative","scale":{"domain":[0,1],"nice":false},"axis":{"values":[0,0.2,0.4,0.6,0.8,1],"tickCount":20,"labelExpr":"'' + datum.value","title":null}},
      "y":{"field":"d3","type":"quantitative","scale":{"domain":[-200,200],"nice":false,"zero":false},"axis":{"values":[-200,0,200],"tickCount":20,"labelExpr":"'' + datum.value","title":"(x)ₗₗₗ"}},
      "color":{"field":"s","type":"nominal","scale":{"domain":["b","o","p","c"],"range":["#0072BD","#D95319","#7E2F8E","#4DBEEE"]},"legend":null}}},
    {"data":{"name":"red"},"transform":[{"filter":"datum.p == 'd3'"}],"mark":{"type":"circle","size":230,"color":"#ff0000","opacity":1},
     "encoding":{"x":{"field":"l","type":"quantitative"},"y":{"field":"v","type":"quantitative"}}}
  ]},
  {"width":360,"height":78,"layer":[
    {"data":{"name":"xs"},"mark":{"type":"line","strokeDash":[10,5],"strokeWidth":1.5,"interpolate":"monotone"},
     "encoding":{
      "x":{"field":"l","type":"quantitative","scale":{"domain":[0,1],"nice":false},"axis":{"values":[0,0.2,0.4,0.6,0.8,1],"tickCount":20,"labelExpr":"'' + datum.value","title":"l"}},
      "y":{"field":"d4","type":"quantitative","scale":{"domain":[-2000,2000],"nice":false,"zero":false},"axis":{"values":[-2000,0,2000],"tickCount":20,"labelExpr":"'' + datum.value","title":"(x)ₗₗₗₗ"}},
      "color":{"field":"s","type":"nominal","scale":{"domain":["b","o","p","c"],"range":["#0072BD","#D95319","#7E2F8E","#4DBEEE"]},"legend":null}}}
  ]}
 ],
 "spacing":31.5,"bounds":"flush","resolve":{"scale":{"color":"independent"}}
}
],
"spacing":0,"bounds":"flush","resolve":{"scale":{"color":"independent"}}
}
